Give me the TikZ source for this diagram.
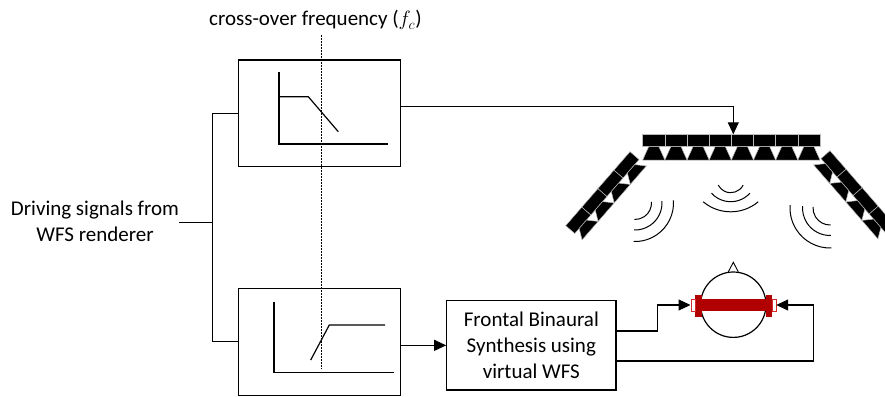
\documentclass[tikz,border=0pt]{standalone}
\usepackage{fontspec}
\setmainfont{Carlito}
\usetikzlibrary{arrows.meta}
\definecolor{phonered}{HTML}{B00000}
\definecolor{cupedge}{HTML}{D42A2A}
\begin{document}
\begin{tikzpicture}[x=1pt,y=-1pt,
  every node/.style={font=\fontsize{21}{26}\selectfont, inner sep=0pt},
  block/.style={draw, line width=1.1pt, rectangle},
  conn/.style={line width=1.1pt},
  arrowconn/.style={conn, -{Triangle[length=12pt,width=11pt]}},
  graphline/.style={line width=1.2pt},
  cell/.style={fill=black, draw=gray!55, line width=0.5pt},
  wave/.style={line width=1pt},
  fcline/.style={line width=1pt, dash pattern=on 1.6pt off 1.4pt},
]
\useasboundingbox (0,0) rectangle (885,396);

% filter blocks and text
\node[block, minimum width=162.4pt, minimum height=106.7pt] (lp) at (319.5,113.35) {};
\node[block, minimum width=162.4pt, minimum height=106.7pt] (hp) at (319.5,341.7) {};
\node[block, minimum width=169.3pt, minimum height=89.3pt, align=center] (fbs) at (531.35,345.35)
  {Frontal Binaural\\Synthesis using\\virtual WFS};
\node[align=center] (drv) at (95,221) {Driving signals from\\WFS renderer};
\node[anchor=base west] (title) at (209,26) {cross-over frequency ($f_c$)};

% low-pass response
\draw[graphline] (279,72.3) -- (279,144) -- (388.3,144);
\draw[graphline] (279,96.7) -- (308.3,96.7) -- (338.3,131.7);
% high-pass response
\draw[graphline] (274,301.7) -- (274,372.3) -- (394,372.3);
\draw[graphline] (310.7,360) -- (329.3,325) -- (385,325);

% cross-over marker
\coordinate (fctop) at (321.7,35);
\coordinate (fcbot) at (321.7,369.3);
\draw[fcline] (fctop) -- (fcbot);

% loudspeaker arrays
\begin{scope}[shift={(642.7,134.3)}]
  \foreach \i in {0,...,7} {
    \path[cell] (\i*22.16,0) rectangle ++(22.16,12.4);
    \path[cell] (\i*22.16+6,12.4) -- ++(10.16,0) -- (\i*22.16+22.16,25.7) -- (\i*22.16,25.7) -- cycle;
  }
\end{scope}
\begin{scope}[shift={(630,151.7)}, rotate=49]
  \foreach \i in {1,...,4} {
    \path[cell] (-\i*24.5,0) rectangle ++(24.5,12);
    \path[cell] (-\i*24.5+6.7,12) -- ++(11.1,0) -- (-\i*24.5+24.5,21.7) -- (-\i*24.5,21.7) -- cycle;
  }
\end{scope}
\begin{scope}[shift={(830,150.7)}, rotate=-49]
  \foreach \i in {0,...,3} {
    \path[cell] (\i*24.5,0) rectangle ++(24.5,12);
    \path[cell] (\i*24.5+6.7,12) -- ++(11.1,0) -- (\i*24.5+24.5,21.7) -- (\i*24.5,21.7) -- cycle;
  }
\end{scope}

% wave fronts
\draw[wave] ([shift={(27:14)}]730.7,178.7) arc[start angle=27, end angle=153, radius=14];
\draw[wave] ([shift={(42.4:26)}]730.7,175.7) arc[start angle=42.4, end angle=137.6, radius=26];
\draw[wave] ([shift={(50:42.8)}]730.7,169) arc[start angle=50, end angle=130, radius=42.8];
\foreach \r in {16.5,27,38.5}
  \draw[wave] ([shift={(-4:\r)}]635,203) arc[start angle=-4, end angle=92, radius=\r];
\foreach \r in {17,27.5,40}
  \draw[wave] ([shift={(88:\r)}]830,208) arc[start angle=88, end angle=184, radius=\r];

% listener with headphones
\draw[line width=1.2pt] (733.3,304.7) circle[radius=32.7];
\draw[line width=0.9pt] (728.3,271.8) -- (733.3,262.3) -- (738.3,271.8);
\fill[phonered] (701.7,299.3) rectangle (765.7,311);
\fill[phonered] (695,295) rectangle (701.7,316.7);
\fill[phonered] (765.7,295) rectangle (771.9,316.7);
\draw[cupedge, fill=white, line width=0.8pt] (690.9,299.5) rectangle (695,311.5);
\draw[cupedge, fill=white, line width=0.8pt] (771.9,299.5) rectangle (776,311.5);

% connectors
\coordinate (split) at (212.7,222.3);
\coordinate (topin) at (733.3,134.3);
\coordinate (lcup) at (690.5,305);
\coordinate (rcup) at (776.2,305);
\draw[conn] (split -| drv.east) -- (split);
\draw[conn] (lp.west) -| (split) |- (hp.west);
\draw[arrowconn] ([shift={(0,-6.85)}]lp.east) -| (topin);
\draw[arrowconn] (hp.east |- fbs.west) -- (fbs.west);
\draw[arrowconn] ([shift={(0,-14.4)}]fbs.east) -| ([shift={(-32.8,0)}]lcup) -- (lcup);
\draw[arrowconn] ([shift={(0,15.6)}]fbs.east) -| ([shift={(37.1,0)}]rcup) -- (rcup);
\end{tikzpicture}
\end{document}
